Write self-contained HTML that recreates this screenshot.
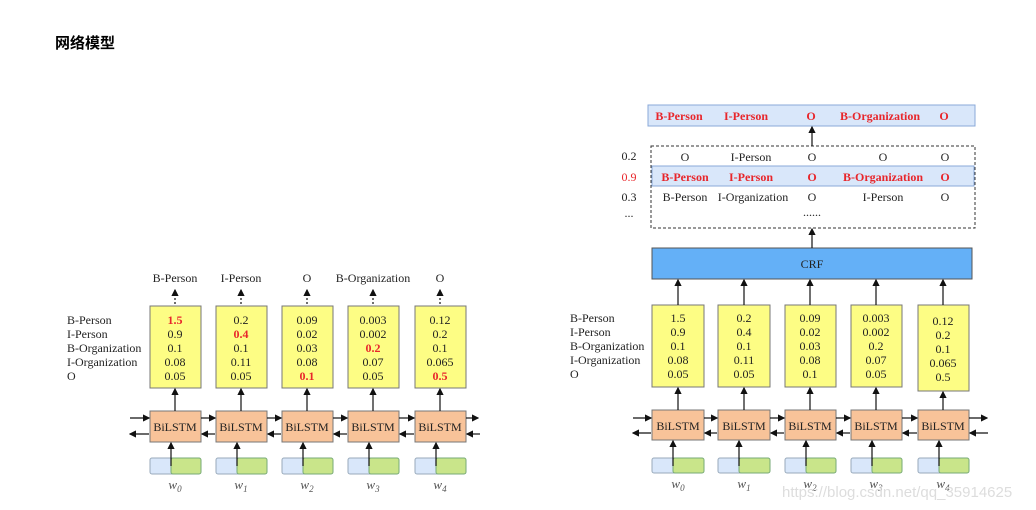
<!DOCTYPE html>
<html><head><meta charset="utf-8"><style>
body{margin:0;background:#fff;width:1036px;height:510px;overflow:hidden}
svg{display:block}
text{font-family:"Liberation Serif",serif;font-size:12px;fill:#222}
.r{fill:#e8262b;font-weight:bold}
.t{font-family:"Liberation Sans","Noto Sans CJK SC",sans-serif;font-size:15px;font-weight:bold;fill:#000}
.y{fill:#fdfd84;stroke:#777;stroke-width:1}
.b{fill:#f8c399;stroke:#777;stroke-width:1}
.eb{fill:#d9e7fa;stroke:#9ab;stroke-width:1}
.eg{fill:#c9e58a;stroke:#7a7;stroke-width:1}
.l{stroke:#111;stroke-width:1.2;fill:none}
.w{font-style:italic;fill:#555;font-size:13px}
</style></head><body>
<svg width="1036" height="510" viewBox="0 0 1036 510">
<defs><marker id="a" markerWidth="6" markerHeight="6" refX="5" refY="3" orient="auto"><path d="M0,0L6,3L0,6z" fill="#111"/></marker></defs>
<text class="t" x="55" y="48">网络模型</text>

<!-- LEFT -->
<g text-anchor="start">
<text x="67" y="324">B-Person</text><text x="67" y="338">I-Person</text><text x="67" y="352">B-Organization</text><text x="67" y="366">I-Organization</text><text x="67" y="380">O</text>
</g>
<g text-anchor="middle">
<text x="175" y="282">B-Person</text><text x="241" y="282">I-Person</text><text x="307" y="282">O</text><text x="373" y="282">B-Organization</text><text x="440" y="282">O</text>
</g>
<g>
<rect class="y" x="150" y="306" width="51" height="82"/><rect class="y" x="216" y="306" width="51" height="82"/><rect class="y" x="282" y="306" width="51" height="82"/><rect class="y" x="348" y="306" width="51" height="82"/><rect class="y" x="415" y="306" width="51" height="82"/>
<rect class="b" x="150" y="411" width="51" height="31"/><rect class="b" x="216" y="411" width="51" height="31"/><rect class="b" x="282" y="411" width="51" height="31"/><rect class="b" x="348" y="411" width="51" height="31"/><rect class="b" x="415" y="411" width="51" height="31"/>
</g>
<g text-anchor="middle">
<text x="175" y="324" class="r">1.5</text><text x="175" y="338">0.9</text><text x="175" y="352">0.1</text><text x="175" y="366">0.08</text><text x="175" y="380">0.05</text>
<text x="241" y="324">0.2</text><text x="241" y="338" class="r">0.4</text><text x="241" y="352">0.1</text><text x="241" y="366">0.11</text><text x="241" y="380">0.05</text>
<text x="307" y="324">0.09</text><text x="307" y="338">0.02</text><text x="307" y="352">0.03</text><text x="307" y="366">0.08</text><text x="307" y="380" class="r">0.1</text>
<text x="373" y="324">0.003</text><text x="373" y="338">0.002</text><text x="373" y="352" class="r">0.2</text><text x="373" y="366">0.07</text><text x="373" y="380">0.05</text>
<text x="440" y="324">0.12</text><text x="440" y="338">0.2</text><text x="440" y="352">0.1</text><text x="440" y="366">0.065</text><text x="440" y="380" class="r">0.5</text>
<text x="175" y="431">BiLSTM</text><text x="241" y="431">BiLSTM</text><text x="307" y="431">BiLSTM</text><text x="373" y="431">BiLSTM</text><text x="440" y="431">BiLSTM</text>
<text class="w" x="175" y="489">w<tspan font-size="9" dy="3">0</tspan></text><text class="w" x="241" y="489">w<tspan font-size="9" dy="3">1</tspan></text><text class="w" x="307" y="489">w<tspan font-size="9" dy="3">2</tspan></text><text class="w" x="373" y="489">w<tspan font-size="9" dy="3">3</tspan></text><text class="w" x="440" y="489">w<tspan font-size="9" dy="3">4</tspan></text>
</g>
<g>
<rect class="eb" x="150" y="458" width="25" height="16" rx="2"/><rect class="eg" x="171" y="458" width="30" height="16" rx="2"/>
<rect class="eb" x="216" y="458" width="25" height="16" rx="2"/><rect class="eg" x="237" y="458" width="30" height="16" rx="2"/>
<rect class="eb" x="282" y="458" width="25" height="16" rx="2"/><rect class="eg" x="303" y="458" width="30" height="16" rx="2"/>
<rect class="eb" x="348" y="458" width="25" height="16" rx="2"/><rect class="eg" x="369" y="458" width="30" height="16" rx="2"/>
<rect class="eb" x="415" y="458" width="25" height="16" rx="2"/><rect class="eg" x="436" y="458" width="30" height="16" rx="2"/>
</g>
<g class="l" marker-end="url(#a)">
<path d="M175 304V290" stroke-dasharray="2,2"/><path d="M241 304V290" stroke-dasharray="2,2"/><path d="M307 304V290" stroke-dasharray="2,2"/><path d="M373 304V290" stroke-dasharray="2,2"/><path d="M440 304V290" stroke-dasharray="2,2"/>
<path d="M175 411V389"/><path d="M241 411V389"/><path d="M307 411V389"/><path d="M373 411V389"/><path d="M440 411V389"/>
<path d="M171 466V443"/><path d="M237 466V443"/><path d="M303 466V443"/><path d="M369 466V443"/><path d="M436 466V443"/>
<path d="M130 418H149"/><path d="M201 418H215"/><path d="M267 418H281"/><path d="M333 418H347"/><path d="M399 418H414"/><path d="M466 418H478"/>
<path d="M149 434H130"/><path d="M215 434H202"/><path d="M281 434H268"/><path d="M347 434H334"/><path d="M414 434H400"/><path d="M480 434H467"/>
</g>

<!-- RIGHT -->
<rect x="648" y="105" width="327" height="21" fill="#d9e7fa" stroke="#8aa8d8"/>
<g text-anchor="middle">
<text class="r" x="679" y="120">B-Person</text><text class="r" x="746" y="120">I-Person</text><text class="r" x="811" y="120">O</text><text class="r" x="880" y="120">B-Organization</text><text class="r" x="944" y="120">O</text>
</g>
<rect x="651" y="146" width="324" height="82" fill="none" stroke="#333" stroke-dasharray="3,2"/>
<rect x="652" y="166" width="322" height="20" fill="#d9e7fa" stroke="#8aa8d8"/>
<g text-anchor="middle">
<text x="629" y="160">0.2</text><text x="629" y="181" class="r" style="font-weight:normal">0.9</text><text x="629" y="201">0.3</text><text x="629" y="217">...</text>
<text x="685" y="161">O</text><text x="751" y="161">I-Person</text><text x="812" y="161">O</text><text x="883" y="161">O</text><text x="945" y="161">O</text>
<text class="r" x="685" y="181">B-Person</text><text class="r" x="751" y="181">I-Person</text><text class="r" x="812" y="181">O</text><text class="r" x="883" y="181">B-Organization</text><text class="r" x="945" y="181">O</text>
<text x="685" y="201">B-Person</text><text x="753" y="201">I-Organization</text><text x="812" y="201">O</text><text x="883" y="201">I-Person</text><text x="945" y="201">O</text>
<text x="812" y="216">......</text>
</g>
<rect x="652" y="248" width="320" height="31" fill="#64b0f7" stroke="#555"/>
<text x="812" y="268" text-anchor="middle">CRF</text>
<g text-anchor="start">
<text x="570" y="322">B-Person</text><text x="570" y="336">I-Person</text><text x="570" y="350">B-Organization</text><text x="570" y="364">I-Organization</text><text x="570" y="378">O</text>
</g>
<g>
<rect class="y" x="652" y="305" width="52" height="82"/><rect class="y" x="718" y="305" width="52" height="82"/><rect class="y" x="785" y="305" width="51" height="82"/><rect class="y" x="851" y="305" width="51" height="82"/><rect class="y" x="918" y="305" width="51" height="86"/>
<rect class="b" x="652" y="410" width="52" height="30"/><rect class="b" x="718" y="410" width="52" height="30"/><rect class="b" x="785" y="410" width="51" height="30"/><rect class="b" x="851" y="410" width="51" height="30"/><rect class="b" x="918" y="410" width="51" height="30"/>
<rect class="eb" x="652" y="458" width="25" height="15" rx="2"/><rect class="eg" x="673" y="458" width="31" height="15" rx="2"/>
<rect class="eb" x="718" y="458" width="25" height="15" rx="2"/><rect class="eg" x="739" y="458" width="31" height="15" rx="2"/>
<rect class="eb" x="785" y="458" width="25" height="15" rx="2"/><rect class="eg" x="806" y="458" width="30" height="15" rx="2"/>
<rect class="eb" x="851" y="458" width="25" height="15" rx="2"/><rect class="eg" x="872" y="458" width="30" height="15" rx="2"/>
<rect class="eb" x="918" y="458" width="25" height="15" rx="2"/><rect class="eg" x="939" y="458" width="30" height="15" rx="2"/>
</g>
<g text-anchor="middle">
<text x="678" y="322">1.5</text><text x="678" y="336">0.9</text><text x="678" y="350">0.1</text><text x="678" y="364">0.08</text><text x="678" y="378">0.05</text>
<text x="744" y="322">0.2</text><text x="744" y="336">0.4</text><text x="744" y="350">0.1</text><text x="744" y="364">0.11</text><text x="744" y="378">0.05</text>
<text x="810" y="322">0.09</text><text x="810" y="336">0.02</text><text x="810" y="350">0.03</text><text x="810" y="364">0.08</text><text x="810" y="378">0.1</text>
<text x="876" y="322">0.003</text><text x="876" y="336">0.002</text><text x="876" y="350">0.2</text><text x="876" y="364">0.07</text><text x="876" y="378">0.05</text>
<text x="943" y="325">0.12</text><text x="943" y="339">0.2</text><text x="943" y="353">0.1</text><text x="943" y="367">0.065</text><text x="943" y="381">0.5</text>
<text x="678" y="430">BiLSTM</text><text x="744" y="430">BiLSTM</text><text x="810" y="430">BiLSTM</text><text x="876" y="430">BiLSTM</text><text x="943" y="430">BiLSTM</text>
<text class="w" x="678" y="488">w<tspan font-size="9" dy="3">0</tspan></text><text class="w" x="744" y="488">w<tspan font-size="9" dy="3">1</tspan></text><text class="w" x="810" y="488">w<tspan font-size="9" dy="3">2</tspan></text><text class="w" x="876" y="488">w<tspan font-size="9" dy="3">3</tspan></text><text class="w" x="943" y="488">w<tspan font-size="9" dy="3">4</tspan></text>
</g>
<g class="l" marker-end="url(#a)">
<path d="M812 146V127"/><path d="M812 248V229"/>
<path d="M678 305V280"/><path d="M744 305V280"/><path d="M810 305V280"/><path d="M876 305V280"/><path d="M943 305V280"/>
<path d="M678 410V388"/><path d="M744 410V388"/><path d="M810 410V388"/><path d="M876 410V388"/><path d="M943 410V392"/>
<path d="M673 466V441"/><path d="M739 466V441"/><path d="M806 466V441"/><path d="M872 466V441"/><path d="M939 466V441"/>
<path d="M633 418H651"/><path d="M704 418H717"/><path d="M770 418H784"/><path d="M836 418H850"/><path d="M902 418H917"/><path d="M969 418H987"/>
<path d="M651 433H633"/><path d="M717 433H705"/><path d="M784 433H771"/><path d="M850 433H837"/><path d="M917 433H903"/><path d="M988 433H970"/>
</g>
<text x="782" y="497" style="font-family:'Liberation Sans',sans-serif;font-size:15px;fill:#ddd">https://blog.csdn.net/qq_35914625</text>
</svg>
</body></html>
